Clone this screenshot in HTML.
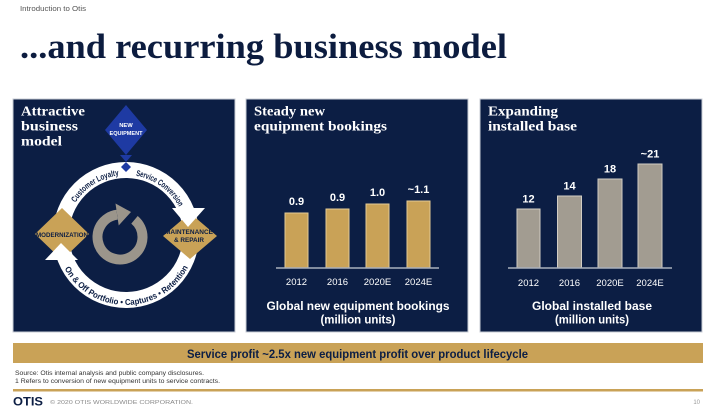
<!DOCTYPE html>
<html><head><meta charset="utf-8"><style>
html,body{margin:0;padding:0;background:#fff;}
svg{display:block;}
</style></head><body>
<svg width="710" height="412" viewBox="0 0 710 412" xmlns="http://www.w3.org/2000/svg">
<rect width="710" height="412" fill="#ffffff"/>
<!-- header -->
<text x="20" y="11" font-family="Liberation Sans, sans-serif" font-size="7.5" fill="#555" textLength="66" lengthAdjust="spacingAndGlyphs">Introduction to Otis</text>
<text x="20" y="58" font-family="Liberation Serif, serif" font-weight="bold" font-size="35" fill="#0c1c3f" textLength="487" lengthAdjust="spacingAndGlyphs">...and recurring business model</text>

<!-- panels -->
<rect x="13" y="99" width="222" height="233" fill="#0c1e44" stroke="#c9cdd6" stroke-width="1"/>
<rect x="246" y="99" width="222" height="233" fill="#0c1e44" stroke="#c9cdd6" stroke-width="1"/>
<rect x="480" y="99" width="222" height="233" fill="#0c1e44" stroke="#c9cdd6" stroke-width="1"/>

<!-- left panel -->
<g font-family="Liberation Serif, serif" font-weight="bold" font-size="14" fill="#fff">
<text x="21" y="115.5" textLength="64" lengthAdjust="spacingAndGlyphs">Attractive</text>
<text x="21" y="130.5" textLength="57" lengthAdjust="spacingAndGlyphs">business</text>
<text x="21" y="145.5" textLength="41" lengthAdjust="spacingAndGlyphs">model</text>
</g>

<!-- ring -->
<circle cx="126" cy="235" r="65" fill="none" stroke="#ffffff" stroke-width="16"/>
<defs>
<path id="topArc" d="M 66 235 A 60 60 0 0 1 186 235"/>
<path id="botArc" d="M 56 235 A 70 70 0 0 0 196 235"/>
</defs>
<g font-family="Liberation Sans, sans-serif" font-weight="bold" font-size="8.5" fill="#0c1e44">
<text><textPath href="#topArc" startOffset="34" textLength="53" lengthAdjust="spacingAndGlyphs">Customer Loyalty</textPath></text>
<text><textPath href="#topArc" startOffset="104" textLength="55" lengthAdjust="spacingAndGlyphs">Service Conversion</textPath></text>
<text font-size="5"><textPath href="#topArc" startOffset="164">1</textPath></text>
<text><textPath href="#botArc" startOffset="35" textLength="151" lengthAdjust="spacingAndGlyphs">On &amp; Off Portfolio • Captures • Retention</textPath></text>
</g>

<!-- new equipment diamond -->
<polygon points="126,105 147,130 126,155 105,130" fill="#1e3aa3"/>
<polygon points="120,155 132,155 126,162" fill="#1e3aa3"/>
<polygon points="126,162 131,167 126,172 121,167" fill="#1e3aa3"/>
<g font-family="Liberation Sans, sans-serif" font-weight="bold" font-size="5.8" fill="#fff" text-anchor="middle">
<text x="126" y="127">NEW</text>
<text x="126" y="135" textLength="33" lengthAdjust="spacingAndGlyphs">EQUIPMENT</text>
</g>

<!-- gold diamonds -->
<polygon points="62,208 89,234 62,260 35,234" fill="#c9a257"/>
<polygon points="190,213 217,236 190,259 163,236" fill="#c9a257"/>
<!-- arrowheads -->
<polygon points="172,208 205,208 188,227" fill="#ffffff"/>
<polygon points="45,260 78,260 61,243" fill="#ffffff"/>
<g font-family="Liberation Sans, sans-serif" font-weight="bold" font-size="6" fill="#0c1e44" text-anchor="middle">
<text x="62" y="237" textLength="52" lengthAdjust="spacingAndGlyphs">MODERNIZATION</text>
<text x="189" y="234" textLength="48" lengthAdjust="spacingAndGlyphs">MAINTENANCE</text>
<text x="189" y="242" textLength="30" lengthAdjust="spacingAndGlyphs">&amp; REPAIR</text>
</g>

<!-- center gray arrow -->
<path d="M 134.5 219.8 A 22.5 22.5 0 1 1 117.1 214.7" fill="none" stroke="#9b958b" stroke-width="10"/>
<polygon points="115.5,203.5 118.7,225.5 131,212" fill="#9b958b"/>

<!-- middle panel -->
<g font-family="Liberation Serif, serif" font-weight="bold" font-size="14" fill="#fff">
<text x="254" y="115.5" textLength="71" lengthAdjust="spacingAndGlyphs">Steady new</text>
<text x="254" y="130.5" textLength="133" lengthAdjust="spacingAndGlyphs">equipment bookings</text>
</g>
<g fill="#c9a257" stroke="#e3cb94" stroke-width="1">
<rect x="285" y="213" width="23" height="55"/>
<rect x="326" y="209" width="23" height="59"/>
<rect x="366" y="204" width="23" height="64"/>
<rect x="407" y="201" width="23" height="67"/>
</g>
<line x1="276" y1="268" x2="439" y2="268" stroke="#aab0bc" stroke-width="1.5"/>
<g font-family="Liberation Sans, sans-serif" font-weight="bold" font-size="11" fill="#fff" text-anchor="middle">
<text x="296.5" y="205">0.9</text>
<text x="337.5" y="201">0.9</text>
<text x="377.5" y="196">1.0</text>
<text x="418.5" y="193">~1.1</text>
</g>
<g font-family="Liberation Sans, sans-serif" font-size="9.5" fill="#fff" text-anchor="middle">
<text x="296.5" y="285">2012</text>
<text x="337.5" y="285">2016</text>
<text x="377.5" y="285">2020E</text>
<text x="418.5" y="285">2024E</text>
</g>
<g font-family="Liberation Sans, sans-serif" font-weight="bold" font-size="11.5" fill="#fff" text-anchor="middle">
<text x="358" y="310" textLength="183" lengthAdjust="spacingAndGlyphs">Global new equipment bookings</text>
<text x="358" y="323.5" textLength="75" lengthAdjust="spacingAndGlyphs">(million units)</text>
</g>

<!-- right panel -->
<g font-family="Liberation Serif, serif" font-weight="bold" font-size="14" fill="#fff">
<text x="488" y="115.5" textLength="70" lengthAdjust="spacingAndGlyphs">Expanding</text>
<text x="488" y="130.5" textLength="89" lengthAdjust="spacingAndGlyphs">installed base</text>
</g>
<g fill="#a29c91" stroke="#d2cdc4" stroke-width="1">
<rect x="517" y="209" width="23" height="59"/>
<rect x="557.5" y="196" width="24" height="72"/>
<rect x="598" y="179" width="24" height="89"/>
<rect x="638" y="164" width="24" height="104"/>
</g>
<line x1="508" y1="268" x2="672" y2="268" stroke="#aab0bc" stroke-width="1.5"/>
<g font-family="Liberation Sans, sans-serif" font-weight="bold" font-size="11" fill="#fff" text-anchor="middle">
<text x="528.5" y="202.5">12</text>
<text x="569.5" y="189.5">14</text>
<text x="610" y="172.5">18</text>
<text x="650" y="157.5">~21</text>
</g>
<g font-family="Liberation Sans, sans-serif" font-size="9.5" fill="#fff" text-anchor="middle">
<text x="528.5" y="286">2012</text>
<text x="569.5" y="286">2016</text>
<text x="610" y="286">2020E</text>
<text x="650" y="286">2024E</text>
</g>
<g font-family="Liberation Sans, sans-serif" font-weight="bold" font-size="11.5" fill="#fff" text-anchor="middle">
<text x="592" y="310" textLength="120" lengthAdjust="spacingAndGlyphs">Global installed base</text>
<text x="592" y="323.5" textLength="74" lengthAdjust="spacingAndGlyphs">(million units)</text>
</g>

<!-- gold banner -->
<rect x="13" y="343" width="690" height="20" fill="#c9a257"/>
<text x="357.5" y="358" font-family="Liberation Sans, sans-serif" font-weight="bold" font-size="12" fill="#0c1e44" text-anchor="middle" textLength="341" lengthAdjust="spacingAndGlyphs">Service profit ~2.5x new equipment profit over product lifecycle</text>

<!-- footnotes -->
<g font-family="Liberation Sans, sans-serif" font-size="6.3" fill="#333">
<text x="15" y="375" textLength="189" lengthAdjust="spacingAndGlyphs">Source: Otis internal analysis and public company disclosures.</text>
<text x="15" y="383" textLength="205" lengthAdjust="spacingAndGlyphs">1 Refers to conversion of new equipment units to service contracts.</text>
</g>
<rect x="13" y="389" width="690" height="2.5" fill="#c9a257"/>
<text x="13" y="405.5" font-family="Liberation Sans, sans-serif" font-weight="bold" font-size="11.5" fill="#0c1e44" textLength="30" lengthAdjust="spacingAndGlyphs">OTIS</text>
<text x="50" y="404" font-family="Liberation Sans, sans-serif" font-size="5.5" fill="#8a8a8a" textLength="143" lengthAdjust="spacingAndGlyphs">© 2020 OTIS WORLDWIDE CORPORATION.</text>
<text x="700" y="404" font-family="Liberation Sans, sans-serif" font-size="6" fill="#999" text-anchor="end">10</text>
</svg>
</body></html>
